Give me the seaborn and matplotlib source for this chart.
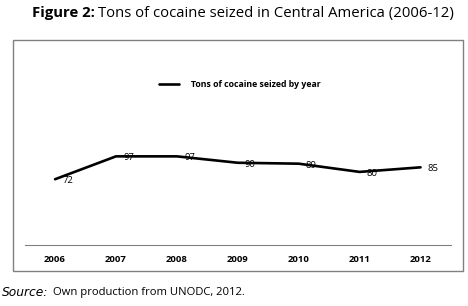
import matplotlib
matplotlib.use("Agg")
import matplotlib.pyplot as plt
import seaborn as sns
import pandas as pd
from matplotlib.patches import Rectangle

years = ["2006", "2007", "2008", "2009", "2010", "2011", "2012"]
tons = [72, 97, 97, 90, 89, 80, 85]
series_name = "Tons of cocaine seized by year"

sns.set_theme(style="white")
plt.rcParams['font.family'] = ['Open Sans', 'DejaVu Sans']
plt.rcParams['text.color'] = 'black'

df = pd.DataFrame({"year": years, "tons": tons})

fig = plt.figure(figsize=(4.68, 3.06), dpi=100)
ax = fig.add_axes([0.0526, 0.199, 0.911, 0.598])

sns.lineplot(data=df, x="year", y="tons", ax=ax, color="black", linewidth=1.9,
             label=series_name, sort=False)

ax.set_xlim(-0.5, 6.5)
ax.set_ylim(0, 200)
for s in ["top", "right", "left"]:
    ax.spines[s].set_visible(False)
ax.spines["bottom"].set_color("#808080")
ax.spines["bottom"].set_linewidth(0.8)
ax.set_yticks([])
ax.set_xlabel("")
ax.set_ylabel("")
ax.tick_params(axis="x", length=0, pad=7, labelsize=6.8, labelcolor="black")
for lab in ax.get_xticklabels():
    lab.set_fontweight("bold")

for i, v in enumerate(tons):
    ax.annotate(str(v), (i, v), xytext=(9, -1), textcoords="offset points",
                ha="center", va="center", fontsize=6.8)

leg = ax.legend(loc="upper center", bbox_to_anchor=(0.505, 0.945), frameon=False,
                fontsize=6.3, handlelength=2.3, handletextpad=1.3)
for t in leg.get_texts():
    t.set_fontweight("bold")

fig.patches.append(Rectangle((13/468, 1-271/306), 450/468, 231/306, transform=fig.transFigure,
                             fill=False, edgecolor="#808080", linewidth=1.0))

t1 = fig.text(32/468, 1-13/306, "Figure 2:", fontsize=10.7, fontweight="bold",
              va="center", ha="left")
fig.canvas.draw()
bb = t1.get_window_extent()
fig.text((bb.x1 + 3)/468, 1-13/306, "Tons of cocaine seized in Central America (2006-12)",
         fontsize=10.7, va="center", ha="left")

s1 = fig.text(2/468, 1-292/306, "Source:", fontsize=8.8, style="italic",
              family=["DejaVu Sans"], va="center", ha="left")
fig.canvas.draw()
bb2 = s1.get_window_extent()
fig.text((bb2.x1 + 5)/468, 1-292/306, "Own production from UNODC, 2012.", fontsize=8.1,
         va="center", ha="left")

fig.savefig("out.png", dpi=100)
